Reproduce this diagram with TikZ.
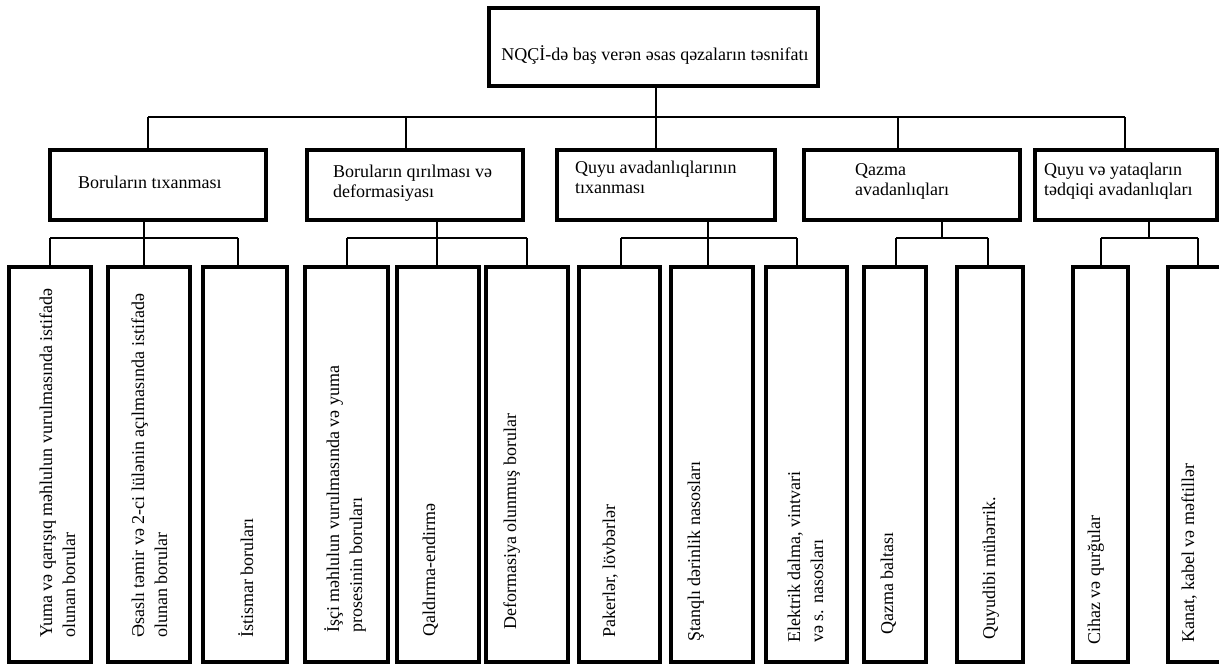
\documentclass[tikz,border=0pt]{standalone}
\usepackage{fontspec}
\setmainfont{Liberation Serif}
\begin{document}
\begin{tikzpicture}[x=1pt,y=-1pt,
  box/.style={draw, rectangle, line width=3.2pt, inner sep=0pt},
  lbl/.style={inner sep=0pt, align=left, font=\fontsize{18}{20}\selectfont},
  rlbl/.style={inner sep=0pt, align=left, rotate=90, anchor=base west, font=\fontsize{18}{23}\selectfont},
  conn/.style={line width=1.2pt}]
\useasboundingbox (0,0) rectangle (1219,664);
\clip (0,0) rectangle (1219,664);
% top
\node[box, minimum width=329pt, minimum height=78pt] (top) at (653.5,47) {};
\node[lbl, anchor=base] (ttop) at (655,60) {NQÇİ-də baş verən əsas qəzaların təsnifatı};
% level 1
\node[box, minimum width=216pt, minimum height=70pt] (b1) at (158,185) {};
\node[box, minimum width=216pt, minimum height=70pt] (b2) at (415,185) {};
\node[box, minimum width=218pt, minimum height=70pt] (b3) at (666,185) {};
\node[box, minimum width=216pt, minimum height=70pt] (b4) at (912,185) {};
\node[box, minimum width=182pt, minimum height=70pt] (b5) at (1126,185) {};
\node[lbl, anchor=base west] (t1) at (78,188) {Boruların tıxanması};
\node[lbl, anchor=base west] (t2) at (333,197) {Boruların qırılması və\\deformasiyası};
\node[lbl, anchor=base west] (t3) at (575,193) {Quyu avadanlıqlarının\\tıxanması};
\node[lbl, anchor=base west] (t4) at (855,195) {Qazma\\avadanlıqları};
\node[lbl, anchor=base west] (t5) at (1044,195) {Quyu və yataqların\\tədqiqi avadanlıqları};
% leaves
\foreach \n/\cx/\w in {a/50/82, b/149/82, c/245/84, d/346.5/83, e/438/82, f/527/82,
  g/619.5/81, h/712/82, i/806.5/81, j/895/62, k/990/66, l/1100.5/55, m/1209/82}
  \node[box, minimum width=\w pt, minimum height=395pt] (\n) at (\cx,464.5) {};
\node[rlbl] (ta) at (75,638) {Yuma və qarışıq məhlulun vurulmasında istifadə\\olunan borular};
\node[rlbl] (tb) at (167,638) {Əsaslı təmir və 2-ci lülənin açılmasında istifadə\\olunan borular};
\node[rlbl] (tc) at (253,638) {İstismar boruları};
\node[rlbl] (td) at (362,633) {İşçi məhlulun vurulmasında və yuma\\prosesinin boruları};
\node[rlbl] (te) at (435,637) {Qaldırma-endirmə};
\node[rlbl] (tf) at (516,630) {Deformasiya olunmuş borular};
\node[rlbl] (tg) at (615,638) {Pakerlər, lövbərlər};
\node[rlbl] (th) at (700,642) {Ştanqlı dərinlik nasosları};
\node[rlbl] (ti) at (823,643) {Elektrik dalma, vintvari\\və s. nasosları};
\node[rlbl] (tj) at (893,635) {Qazma baltası};
\node[rlbl] (tk) at (995,640) {Quyudibi mühərrik.};
\node[rlbl] (tl) at (1100,645) {Cihaz və qurğular};
\node[rlbl] (tm) at (1194,643) {Kanat, kabel və məftillər};
% connectors top level
\coordinate (hub) at (656,117);
\coordinate (c1) at (148,117);
\coordinate (c2) at (406,117);
\coordinate (c3) at (656,117);
\coordinate (c4) at (898,117);
\coordinate (c5) at (1125,117);
\draw[conn] (top.south -| hub) -- (hub);
\draw[conn] (c1) -- (c5);
\foreach \i in {1,...,5} \draw[conn] (c\i) -- (c\i |- b\i.north);
% child buses
\coordinate (d1) at (144,238);
\coordinate (d2) at (437,238);
\coordinate (d3) at (708,238);
\coordinate (d4) at (942,238);
\coordinate (d5) at (1149,238);
\foreach \i in {1,...,5} \draw[conn] (d\i |- b\i.south) -- (d\i);
\foreach \n/\x in {a/50, b/144, c/238, d/347, e/437, f/527, g/621, h/708, i/797, j/896, k/988, l/1101, m/1198}
  \coordinate (k\n) at (\x,238);
\draw[conn] (ka) -- (kc);
\draw[conn] (kd) -- (kf);
\draw[conn] (kg) -- (ki);
\draw[conn] (kj) -- (kk);
\draw[conn] (kl) -- (km);
\foreach \n in {a,...,m} \draw[conn] (k\n) -- (k\n |- \n.north);
\end{tikzpicture}
\end{document}
